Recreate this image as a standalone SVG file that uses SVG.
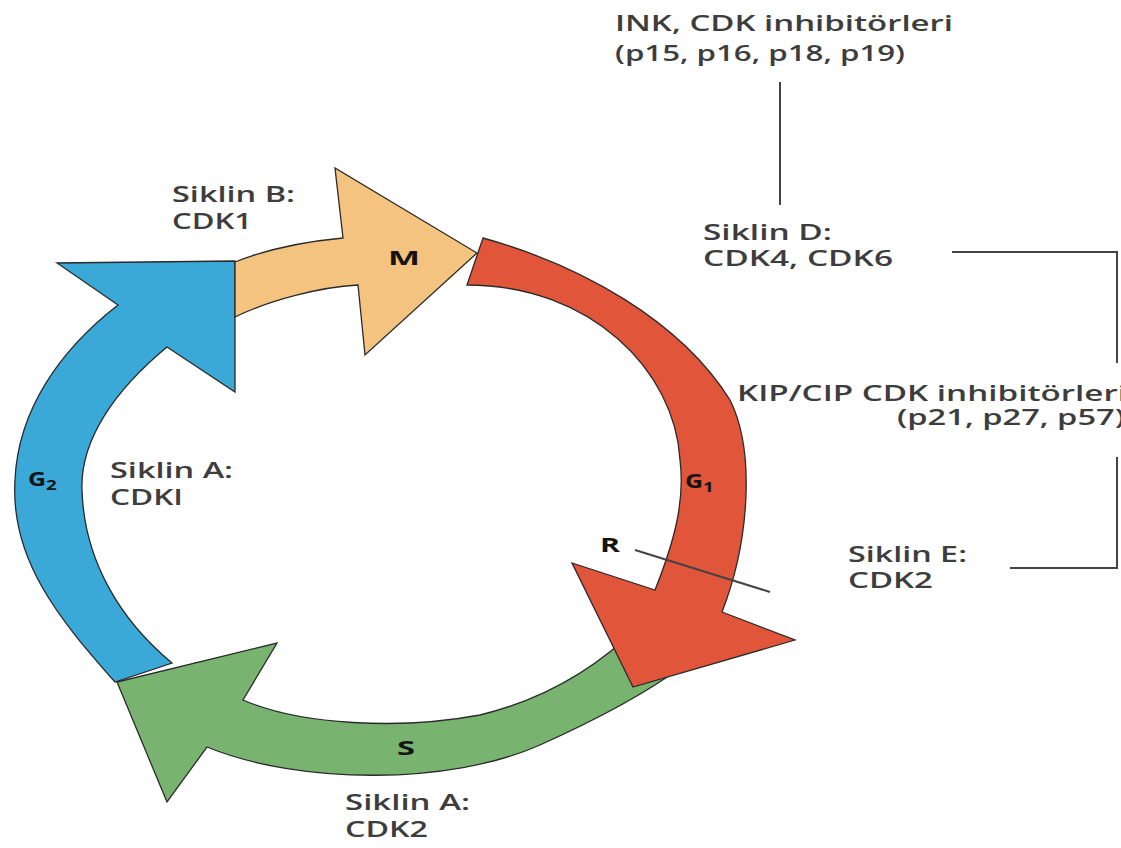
<svg xmlns="http://www.w3.org/2000/svg" width="1121" height="848" viewBox="0 0 1121 848">
<defs>
<style>
.arrow{stroke:#2a2a2a;stroke-width:1.3;stroke-linejoin:miter}
.lbl{font-family:"Open Sans","Liberation Sans",sans-serif;font-weight:600;font-size:21px;fill:#3d3d3d}
.ph{font-family:"Open Sans","Liberation Sans",sans-serif;font-weight:700;font-size:20px;fill:#141414}
.conn{stroke:#444;stroke-width:2;fill:none}
</style>
</defs>
<rect width="1121" height="848" fill="#ffffff"/>

<g id="phase-S">
<path class="arrow" fill="#78b370" d="M 640,625 C 600,665 550,698 480,715 C 400,730 300,725 243,700 L 277,643 L 117,682 L 167,802 L 207,747 C 300,785 450,785 540,745 C 600,718 650,690 680,668 Z"/>
<text class="ph" x="397" y="755" textLength="18" lengthAdjust="spacingAndGlyphs" fill="#1a331a">S</text>
</g>

<g id="phase-G2">
<path class="arrow" fill="#3aa9d7" d="M 115,682 C 60,620 10,560 15,480 C 18,410 60,350 118,305 L 57,263 L 235,261 L 235,392 L 167,347 C 115,390 80,440 82,490 C 84,560 120,620 172,663 Z"/>
<text class="ph" transform="translate(28,486) scale(1.25,1)">G<tspan font-size="15" dy="4">2</tspan></text>
</g>

<g id="phase-M">
<path class="arrow" fill="#f3c37f" d="M 235,262 C 265,250 300,242 343,238 L 335,168 L 477,253 L 365,355 L 358,285 C 320,287 270,300 235,317 Z"/>
<text class="ph" x="388" y="265" textLength="32" lengthAdjust="spacingAndGlyphs">M</text>
</g>

<g id="phase-G1">
<path class="arrow" fill="#e1553a" d="M 483,238 C 580,265 680,320 730,400 C 755,450 750,540 722,612 L 795,640 L 633,687 L 572,563 L 655,590 C 675,540 685,500 680,460 C 675,370 590,285 467,285 Z"/>
<text class="ph" transform="translate(685,488) scale(1.25,1)">G<tspan font-size="15" dy="4">1</tspan></text>
</g>

<g id="label-R">
<text class="ph" x="600" y="552" textLength="20" lengthAdjust="spacingAndGlyphs">R</text>
</g>

<g id="siklin-B">
<text class="lbl" x="172" y="202" textLength="123" lengthAdjust="spacingAndGlyphs">Siklin B:</text>
<text class="lbl" x="172" y="229" textLength="80" lengthAdjust="spacingAndGlyphs">CDK1</text>
</g>

<g id="siklin-A-CDKI">
<text class="lbl" x="110" y="478" textLength="123" lengthAdjust="spacingAndGlyphs">Siklin A:</text>
<text class="lbl" x="110" y="505" textLength="73" lengthAdjust="spacingAndGlyphs">CDKI</text>
</g>

<g id="siklin-A-CDK2">
<text class="lbl" x="345" y="810" textLength="125" lengthAdjust="spacingAndGlyphs">Siklin A:</text>
<text class="lbl" x="345" y="837" textLength="83" lengthAdjust="spacingAndGlyphs">CDK2</text>
</g>

<g id="ink-inhibitors">
<text class="lbl" x="615" y="31" textLength="338" lengthAdjust="spacingAndGlyphs">INK, CDK inhibitörleri</text>
<text class="lbl" x="615" y="61" textLength="290" lengthAdjust="spacingAndGlyphs">(p15, p16, p18, p19)</text>
</g>

<g id="siklin-D">
<text class="lbl" x="703" y="240" textLength="129" lengthAdjust="spacingAndGlyphs">Siklin D:</text>
<text class="lbl" x="703" y="266" textLength="190" lengthAdjust="spacingAndGlyphs">CDK4, CDK6</text>
</g>

<g id="kip-cip-inhibitors">
<text class="lbl" x="737" y="401" textLength="390" lengthAdjust="spacingAndGlyphs">KIP/CIP CDK inhibitörleri</text>
<text class="lbl" x="897" y="425" textLength="228" lengthAdjust="spacingAndGlyphs">(p21, p27, p57)</text>
</g>

<g id="siklin-E">
<text class="lbl" x="848" y="562" textLength="119" lengthAdjust="spacingAndGlyphs">Siklin E:</text>
<text class="lbl" x="848" y="588" textLength="85" lengthAdjust="spacingAndGlyphs">CDK2</text>
</g>

<g id="connectors">
<line class="conn" x1="780" y1="82" x2="780" y2="205"/>
<polyline class="conn" points="952,252 1117,252 1117,363"/>
<polyline class="conn" points="1117,457 1117,568 1010,568"/>
<line class="conn" stroke-width="1.5" x1="635" y1="550" x2="770" y2="592"/>
</g>
</svg>
